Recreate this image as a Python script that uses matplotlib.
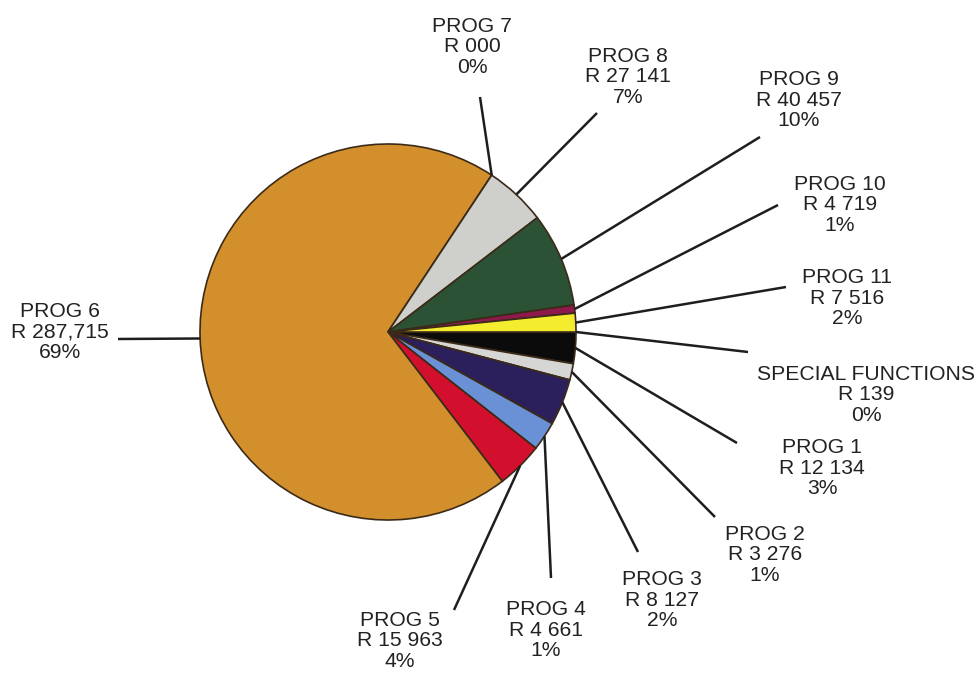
import matplotlib
matplotlib.use("Agg")
import matplotlib.pyplot as plt
import numpy as np

# ---- data ----
programmes = ["SPECIAL FUNCTIONS", "PROG 1", "PROG 2", "PROG 3", "PROG 4", "PROG 5",
              "PROG 6", "PROG 7", "PROG 8", "PROG 9", "PROG 10", "PROG 11"]
amount_labels = ["R 139", "R 12 134", "R 3 276", "R 8 127", "R 4 661", "R 15 963",
                 "R 287,715", "R 000", "R 27 141", "R 40 457", "R 4 719", "R 7 516"]
percent_labels = ["0%", "3%", "1%", "2%", "1%", "4%",
                  "69%", "0%", "7%", "10%", "1%", "2%"]
# share of the pie as drawn (percent of full circle)
slice_share_pct = [0.0, 2.7, 1.4, 4.0, 2.5, 4.0, 69.7, 0.0, 5.3, 8.1, 0.7, 1.6]

colors = ["#000000", "#0b0b0b", "#d6d6d4", "#2b1f5c", "#6a90d6", "#d20f2c",
          "#d38f2c", "#cfcfcb", "#cfcfcb", "#2b5234", "#8e1a4c", "#f4ec2e"]

# ---- layout (pixel-like coordinates, y measured downwards from top) ----
W, H = 977, 673
center_px = (388, 332)
radius_px = 188
# label text centres and leader-line end points, pixels
label_pos = [(866, 395), (822, 468), (765, 555), (662, 600), (546, 630), (400, 641),
             (60, 332), (472, 47), (628, 77), (799, 100), (840, 205), (847, 298)]
line_end = [(748, 352), (737, 443), (715, 517), (638, 552), (551, 578), (454, 610),
            (118, 339), (480, 97), (597, 113), (760, 137), (778, 205), (786, 287)]


def P(x, y):
    return (x, H - y)


fig = plt.figure(figsize=(W / 100, H / 100), dpi=100)
ax = fig.add_axes([0, 0, 1, 1])
ax.set_xlim(0, W)
ax.set_ylim(0, H)
ax.set_aspect("equal")
ax.axis("off")

wedges, _ = ax.pie(slice_share_pct, colors=colors, startangle=0, counterclock=False,
                   center=P(*center_px), radius=radius_px, normalize=True,
                   wedgeprops=dict(edgecolor="#3b2a18", linewidth=1.2))
ax.set_xlim(0, W)
ax.set_ylim(0, H)

cx, cy = P(*center_px)
for i, w in enumerate(wedges):
    mid = np.deg2rad((w.theta1 + w.theta2) / 2.0)
    sx = cx + radius_px * np.cos(mid)
    sy = cy + radius_px * np.sin(mid)
    ex, ey = P(*line_end[i])
    ax.plot([sx, ex], [sy, ey], color="#1e1e1e", linewidth=1.8,
            solid_capstyle="butt", zorder=1)
    tx, ty = P(*label_pos[i])
    ax.text(tx, ty, f"{programmes[i]}\n{amount_labels[i]}\n{percent_labels[i]}",
            ha="center", va="center", multialignment="center",
            fontsize=15.2, family=["Liberation Sans", "DejaVu Sans"],
            color="#222222", linespacing=1.1)

fig.savefig("out.png", dpi=100)
